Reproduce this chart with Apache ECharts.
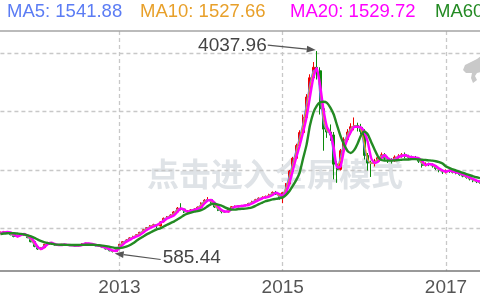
<!DOCTYPE html>
<html><head><meta charset="utf-8">
<script src="https://cdn.jsdelivr.net/npm/echarts@6/dist/echarts.min.js"></script>
<style>html,body{margin:0;padding:0;background:#fff}#c{width:480px;height:300px}</style>
</head><body><div id="c"></div>
<script>
// semi-monthly periods
const periods = [
'2011-07-16','2011-08-01','2011-08-16','2011-09-01','2011-09-16','2011-10-01','2011-10-16','2011-11-01','2011-11-16','2011-12-01','2011-12-16',
'2012-01-01','2012-01-16','2012-02-01','2012-02-16','2012-03-01','2012-03-16','2012-04-01','2012-04-16','2012-05-01','2012-05-16','2012-06-01','2012-06-16',
'2012-07-01','2012-07-16','2012-08-01','2012-08-16','2012-09-01','2012-09-16','2012-10-01','2012-10-16','2012-11-01','2012-11-16','2012-12-01','2012-12-16',
'2013-01-01','2013-01-16','2013-02-01','2013-02-16','2013-03-01','2013-03-16','2013-04-01','2013-04-16','2013-05-01','2013-05-16','2013-06-01','2013-06-16',
'2013-07-01','2013-07-16','2013-08-01','2013-08-16','2013-09-01','2013-09-16','2013-10-01','2013-10-16','2013-11-01','2013-11-16','2013-12-01','2013-12-16',
'2014-01-01','2014-01-16','2014-02-01','2014-02-16','2014-03-01','2014-03-16','2014-04-01','2014-04-16','2014-05-01','2014-05-16','2014-06-01','2014-06-16',
'2014-07-01','2014-07-16','2014-08-01','2014-08-16','2014-09-01','2014-09-16','2014-10-01','2014-10-16','2014-11-01','2014-11-16','2014-12-01','2014-12-16',
'2015-01-01','2015-01-16','2015-02-01','2015-02-16','2015-03-01','2015-03-16','2015-04-01','2015-04-16','2015-05-01','2015-05-16','2015-06-01','2015-06-16',
'2015-07-01','2015-07-16','2015-08-01','2015-08-16','2015-09-01','2015-09-16','2015-10-01','2015-10-16','2015-11-01','2015-11-16','2015-12-01','2015-12-16',
'2016-01-01','2016-01-16','2016-02-01','2016-02-16','2016-03-01','2016-03-16','2016-04-01','2016-04-16','2016-05-01','2016-05-16','2016-06-01','2016-06-16',
'2016-07-01','2016-07-16','2016-08-01','2016-08-16','2016-09-01','2016-09-16','2016-10-01','2016-10-16','2016-11-01','2016-11-16','2016-12-01','2016-12-16',
'2017-01-01','2017-01-16','2017-02-01','2017-02-16','2017-03-01','2017-03-16','2017-04-01','2017-04-16','2017-05-01','2017-05-16','2017-06-01'
];
// [open, close, low, high]
const candles = [
[915,925,900,945],[925,940,915,955],[942,925,912,950],[925,890,880,930],[892,860,845,898],[858,880,845,890],[878,905,870,915],[905,880,868,912],[882,840,830,888],[842,770,760,848],
[772,690,675,778],[690,645,630,698],[645,670,625,680],[668,725,660,732],[725,755,715,768],[757,735,725,765],[735,715,705,742],[716,710,698,724],[708,725,700,732],[726,715,706,735],
[714,710,700,722],[710,705,696,718],[704,700,690,712],[700,712,694,720],[712,738,706,746],[738,742,728,752],[742,730,722,748],[730,712,703,736],[712,700,692,718],[700,690,680,712],
[690,670,662,698],[670,645,638,676],[645,615,606,650],[615,605,585.44,625],[604,660,598,668],[660,725,655,732],[725,770,718,778],[770,800,760,812],[800,835,792,845],[835,860,825,872],
[860,890,850,902],[890,930,882,940],[930,975,922,988],[975,1010,962,1022],[1010,1040,998,1055],[1040,1060,1025,1078],[1060,1040,1005,1070],[1040,1110,1032,1120],[1110,1170,1100,1185],[1170,1195,1155,1210],
[1195,1225,1180,1240],[1225,1280,1212,1295],[1280,1345,1270,1365],[1345,1330,1305,1430],[1330,1280,1262,1342],[1280,1295,1260,1310],[1295,1315,1282,1330],[1315,1330,1298,1345],[1330,1360,1318,1375],[1360,1430,1350,1445],
[1430,1480,1418,1500],[1480,1490,1455,1535],[1490,1430,1415,1502],[1430,1365,1350,1440],[1365,1310,1295,1372],[1310,1285,1256,1320],[1285,1280,1262,1298],[1280,1330,1272,1340],[1330,1370,1322,1382],[1370,1375,1355,1392],
[1375,1385,1362,1398],[1385,1390,1368,1402],[1390,1400,1375,1412],[1400,1425,1390,1438],[1425,1460,1415,1472],[1460,1490,1448,1505],[1490,1515,1478,1530],[1515,1530,1498,1548],[1530,1545,1512,1562],[1545,1575,1530,1592],
[1575,1615,1562,1632],[1615,1590,1572,1640],[1590,1520,1490,1598],[1520,1610,1430,1625],[1610,1760,1600,1775],[1760,1980,1748,2000],[1980,2200,1965,2225],[2200,2420,2180,2450],[2420,2640,2395,2680],[2640,2900,2610,2950],
[2900,3250,2870,3300],[3250,3580,3210,3640],[3580,3760,3530,3850],[3760,3700,3550,4037.96],[3700,3050,2950,3760],[3050,2700,2330,3100],[2700,2650,2550,2820],[2650,2600,2500,2780],[2600,2100,1840,2650],[2100,2010,1779,2150],
[2010,2330,1990,2360],[2330,2520,2300,2560],[2520,2650,2490,2700],[2650,2740,2610,2800],[2740,2760,2680,2900],[2760,2730,2660,2810],[2730,2660,2610,2790],[2660,2250,2180,2700],[2250,2120,1990,2290],[2120,2110,1880,2160],
[2110,2150,2060,2190],[2150,2210,2120,2250],[2210,2260,2180,2300],[2260,2200,2170,2290],[2200,2170,2120,2230],[2170,2160,2110,2200],[2160,2220,2140,2250],[2220,2240,2195,2270],[2240,2260,2210,2290],[2260,2230,2200,2300],
[2230,2215,2180,2260],[2215,2210,2180,2245],[2210,2200,2170,2240],[2200,2150,2120,2215],[2150,2080,2040,2165],[2080,2100,2060,2130],[2100,2095,2065,2125],[2095,2070,2040,2110],[2070,2025,2000,2085],[2025,1990,1960,2040],
[1990,1965,1930,2005],[1965,1990,1940,2010],[1990,1975,1950,2005],[1975,1960,1940,1990],[1960,1948,1925,1975],[1948,1920,1900,1960],[1920,1895,1875,1935],[1895,1870,1850,1910],[1870,1845,1820,1885],[1845,1815,1790,1860],
[1815,1800,1775,1830],[1800,1790,1765,1820]
];
const ma5 = [
922,935,930,900,870,875,896,885,852,795,
715,658,662,708,746,741,721,712,720,718,
712,706,702,708,730,741,734,718,704,693,
676,654,624,608,643,705,756,791,825,852,
881,918,962,1000,1031,1054,1046,1089,1152,1188,
1216,1261,1326,1335,1295,1290,1309,1325,1351,1409,
1465,1487,1448,1385,1327,1292,1282,1315,1358,1373,
1381,1388,1397,1418,1450,1481,1508,1525,1540,1566,
1603,1598,1541,1583,1715,1914,2134,2354,2574,2822,
3145,3481,3706,3718,3245,2805,2665,2615,2250,2037,
2234,2463,2611,2713,2754,2739,2681,2373,2159,2113,
2138,2192,2245,2218,2179,2163,2202,2234,2254,2239,
2220,2212,2203,2165,2101,2094,2097,2078,2039,2001,
1973,1983,1980,1965,1952,1928,1903,1878,1853,1824,
1805,1793];
const ma10 = [
920,932,932,908,876,870,892,892,860,805,
730,668,658,698,740,745,725,712,718,720,
712,708,702,706,725,740,736,721,706,695,
680,658,630,610,632,692,748,785,818,848,
875,910,952,992,1025,1050,1050,1075,1140,1182,
1210,1252,1312,1338,1305,1288,1305,1322,1345,1395,
1455,1485,1460,1398,1338,1298,1283,1305,1350,1372,
1380,1388,1395,1412,1442,1475,1502,1522,1538,1560,
1595,1602,1555,1565,1685,1870,2090,2310,2530,2770,
3075,3415,3670,3730,3375,2875,2675,2625,2350,2055,
2170,2425,2585,2695,2750,2745,2695,2455,2185,2115,
2130,2180,2235,2230,2185,2165,2190,2230,2250,2245,
2222,2212,2205,2175,2115,2090,2098,2082,2048,2008,
1978,1978,1982,1968,1954,1934,1908,1882,1858,1830,
1808,1795];
const ma20 = [
919,928,937,928,894,859,885,902,877,839,
765,680,645,680,731,753,731,714,714,722,
714,709,705,705,714,739,739,731,714,705,
688,671,645,620,611,662,722,770,799,834,
859,885,928,971,1005,1031,1057,1091,1125,1168,
1194,1219,1279,1339,1322,1285,1297,1314,1331,1357,
1425,1476,1485,1434,1370,1314,1288,1285,1331,1370,
1374,1382,1391,1399,1425,1456,1485,1514,1528,1542,
1571,1610,1588,1554,1622,1780,2000,2220,2420,2650,
2900,3250,3580,3750,3450,3030,2740,2630,2380,2040,
2060,2340,2530,2650,2736,2741,2728,2651,2479,2205,
2119,2141,2200,2256,2196,2171,2171,2222,2239,2256,
2231,2217,2210,2200,2154,2085,2102,2094,2068,2025,
1991,1970,1991,1977,1960,1948,1922,1896,1871,1845,
1819,1802];
const ma60 = [
902,910,915,918,915,910,905,895,880,860,
835,805,780,758,745,735,725,720,718,716,
715,714,714,714,715,717,718,718,715,710,
703,695,685,672,662,660,668,685,710,745,
785,825,860,895,925,955,980,1000,1030,1060,
1090,1115,1150,1185,1225,1250,1270,1285,1295,1310,
1340,1380,1415,1420,1405,1390,1360,1335,1320,1320,
1330,1335,1338,1345,1360,1385,1415,1440,1465,1480,
1495,1505,1515,1530,1575,1640,1730,1830,1960,2200,
2430,2760,2980,3100,3160,3168,3150,3070,2950,2760,
2580,2440,2330,2290,2340,2450,2590,2660,2610,2480,
2350,2230,2170,2162,2160,2160,2165,2170,2175,2180,
2180,2185,2185,2180,2175,2170,2165,2160,2150,2135,
2110,2060,2035,2010,1990,1970,1950,1930,1910,1890,
1875,1860];
const yearTicks = ['2013-01-01','2015-01-01','2017-01-01'];
const gridValues = [1000, 2000, 3000, 4000];
const legendNames = ['MA5','MA10','MA20','MA60'];
const legendValues = ['1541.88','1527.66','1529.72','1573.40'];
const maxPoint = {date:'2015-06-01', value:4037.96};
const minPoint = {date:'2012-12-01', value:585.44};
const watermark = '点击进入全屏模式';

const colors = {ma5:'#5b7cf4', ma10:'#e8a02a', ma20:'#ff00ff', ma60:'#238a23', up:'#f20000', down:'#0a8a0a'};
const FONT = '"Liberation Sans", Arial, sans-serif';

const chart = echarts.init(document.getElementById('c'));
const isYear = (i, v) => yearTicks.indexOf(v) >= 0;
const lineSeries = (name, data, color, width) => ({
  name, type:'line', data, showSymbol:false, symbol:'none', smooth:0.2,
  lineStyle:{color, width}, itemStyle:{color}, z:3
});
chart.setOption({
  animation:false,
  grid:{left:0.42, right:-2.17, top:31, bottom:29},
  xAxis:[{
    type:'category', data:periods, boundaryGap:false,
    axisLine:{lineStyle:{color:'#777', width:1.5}},
    axisTick:{show:false},
    axisLabel:{interval:isYear, formatter:v=>v.slice(0,4), color:'#555', fontSize:19, fontFamily:FONT, margin:7},
    splitLine:{show:true, interval:isYear, lineStyle:{type:[4,3], color:'#c8c8c8', width:1.3}}
  },{
    type:'category', data:periods, boundaryGap:false, position:'top',
    axisLine:{lineStyle:{color:'#a5a5a5', width:1.5}},
    axisTick:{show:false}, axisLabel:{show:false}, splitLine:{show:false}
  }],
  yAxis:{type:'value', min:268, max:4382, axisLine:{show:false}, axisTick:{show:false}, axisLabel:{show:false}, splitLine:{show:false}},
  series:[
    {type:'candlestick', data:candles, barWidth:2.6, z:2,
     itemStyle:{color:colors.up, color0:colors.down, borderColor:colors.up, borderColor0:colors.down, borderWidth:1},
     markLine:{silent:true, symbol:'none', label:{show:false}, z:1,
       lineStyle:{type:[4,3], color:'#c8c8c8', width:1.3},
       data:gridValues.map(v=>({yAxis:v}))}},
    lineSeries('MA5', ma5, colors.ma5, 1.2),
    lineSeries('MA10', ma10, colors.ma10, 1.2),
    lineSeries('MA20', ma20, colors.ma20, 2.4),
    lineSeries('MA60', ma60, colors.ma60, 2.4)
  ]
});

const pMax = chart.convertToPixel({xAxisIndex:0, yAxisIndex:0}, [maxPoint.date, maxPoint.value]);
const pMin = chart.convertToPixel({xAxisIndex:0, yAxisIndex:0}, [minPoint.date, minPoint.value]);
function arrow(x1, y1, x2, y2){
  const dx = x2-x1, dy = y2-y1, L = Math.hypot(dx,dy), ux = dx/L, uy = dy/L;
  const bx = x2-ux*9, by = y2-uy*9;
  return [
    {type:'line', z:20, shape:{x1, y1, x2:bx, y2:by}, style:{stroke:'#555', lineWidth:1.2}},
    {type:'polygon', z:20, shape:{points:[[x2,y2],[bx-uy*3.5,by+ux*3.5],[bx+uy*3.5,by-ux*3.5]]}, style:{fill:'#555'}}
  ];
}
const legendX = [7, 140, 290, 435];
const graphics = [
  {type:'text', z:0, x:275, y:174, style:{text:watermark, font:'bold 32px "Noto Sans CJK SC"', fill:'#dfe3e7', align:'center', verticalAlign:'middle'}},
  {type:'polygon', z:0, shape:{points:[[463,70],[465,65],[471,62],[477,59],[481,56],[481,72],[477,73],[475,76],[477,80],[473,83],[471,78],[472,73],[466,73]]}, style:{fill:'#c9c9c9'}},
  {type:'text', z:20, x:pMax[0]-50, y:pMax[1]-5, style:{text:maxPoint.value.toFixed(2), font:'19px '+FONT, fill:'#444', align:'right', verticalAlign:'middle'}},
  ...arrow(pMax[0]-49, pMax[1]-6, pMax[0]-1, pMax[1]-1),
  {type:'text', z:20, x:pMin[0]+50, y:pMin[1]+5, style:{text:minPoint.value.toFixed(2), font:'19px '+FONT, fill:'#444', align:'left', verticalAlign:'middle'}},
  ...arrow(pMin[0]+48, pMin[1]+7, pMin[0]+2, pMin[1]+1),
  ...legendNames.map((n,i)=>({type:'text', z:20, x:legendX[i], y:12, style:{text:n+': '+legendValues[i], font:'18.5px '+FONT, fill:[colors.ma5,colors.ma10,colors.ma20,colors.ma60][i], align:'left', verticalAlign:'middle'}}))
];
chart.setOption({graphic:graphics});
</script>
</body></html>
